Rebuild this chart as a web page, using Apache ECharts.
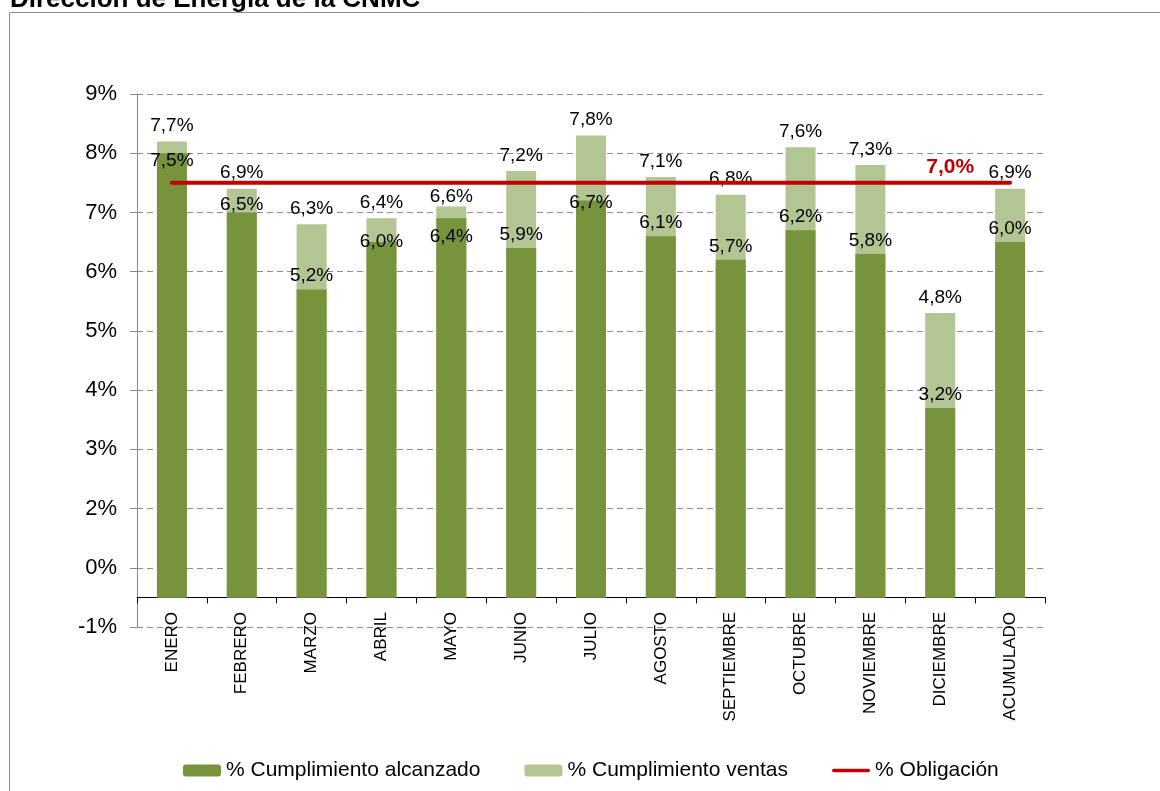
<!DOCTYPE html>
<html><head><meta charset="utf-8">
<script src="https://cdn.jsdelivr.net/npm/echarts@6/dist/echarts.min.js"></script>
<style>html,body{margin:0;padding:0;background:#fff}#c{width:1160px;height:791px}</style>
</head><body><div id="c"></div>
<script>
const titleText = 'Dirección de Energía de la CNMC';
const categories = ['ENERO','FEBRERO','MARZO','ABRIL','MAYO','JUNIO','JULIO','AGOSTO','SEPTIEMBRE','OCTUBRE','NOVIEMBRE','DICIEMBRE','ACUMULADO'];
const alcanzado = [7.5,6.5,5.2,6.0,6.4,5.9,6.7,6.1,5.7,6.2,5.8,3.2,6.0];
const ventasTotal = [7.7,6.9,6.3,6.4,6.6,7.2,7.8,7.1,6.8,7.6,7.3,4.8,6.9];
const obligacion = [7.0,7.0,7.0,7.0,7.0,7.0,7.0,7.0,7.0,7.0,7.0,7.0,7.0];
const yTickLabels = ['-1%','0%','2%','3%','4%','5%','6%','7%','8%','9%'];
const seriesNames = ['% Cumplimiento alcanzado','% Cumplimiento ventas','% Obligación'];

const FONT = "'Liberation Sans', Arial, sans-serif";
const fmt = v => v.toFixed(1).replace('.', ',') + '%';

// label placement tweaks (style only)
const darkLabelStyle = {
  0: { position: 'insideTop', distance: -2 },
  1: { offset: [0, 6] },
  3: { offset: [0, 13] },
  4: { position: 'insideTop', distance: 9 },
  6: { offset: [0, 16] }
};
const lightLabelStyle = {
  4: { offset: [0, 6] }
};
const obligLabelIndex = 11;

const chart = echarts.init(document.getElementById('c'));
chart.setOption({
  animation: false,
  textStyle: { fontFamily: FONT },
  graphic: [
    { type: 'rect', shape: { x: 9.5, y: 12.5, width: 1200, height: 900 },
      style: { fill: 'none', stroke: '#8c8c8c', lineWidth: 1 }, silent: true },
    { type: 'text', left: 10, top: -13,
      style: { text: titleText, font: "bold 26px 'Liberation Sans', Arial, sans-serif", fill: '#000' } }
  ],
  grid: { left: 137, right: 115, top: 94, bottom: 164, containLabel: false },
  legend: {
    left: 178, top: 755, itemWidth: 38, itemHeight: 12, itemGap: 44,
    textStyle: { fontSize: 21, color: '#000', fontFamily: FONT },
    data: [
      { name: seriesNames[0] },
      { name: seriesNames[1] },
      { name: seriesNames[2], icon: 'path://M2,0H40A2,2,0,0,1,40,4H2A2,2,0,0,1,2,0Z' }
    ]
  },
  xAxis: {
    type: 'category', data: categories,
    axisLine: { onZero: true, lineStyle: { color: '#000', width: 1 } },
    axisTick: { show: true, length: 6, lineStyle: { color: '#000' } },
    axisLabel: { interval: 0, rotate: 90, margin: -15, fontSize: 17, color: '#000', fontFamily: FONT }
  },
  yAxis: {
    type: 'value', min: -0.5, max: 8.5, interval: 1,
    axisLine: { show: true, lineStyle: { color: '#868686' } },
    axisTick: { show: true, length: 7, lineStyle: { color: '#868686' } },
    splitLine: { show: true, lineStyle: { color: '#8c8c8c', type: [6, 4], width: 1 } },
    axisLabel: { margin: 20, fontSize: 22, color: '#000', fontFamily: FONT,
      formatter: v => yTickLabels[Math.round(v + 0.5)] }
  },
  series: [
    {
      name: seriesNames[0], type: 'bar', barWidth: 30, barGap: '-100%', z: 3,
      itemStyle: { color: '#77933C' },
      label: { show: true, position: 'top', distance: 4, fontSize: 19, color: '#000',
        formatter: p => fmt(p.value) },
      data: alcanzado.map((v, i) => darkLabelStyle[i] ? { value: v, label: darkLabelStyle[i] } : v)
    },
    {
      name: seriesNames[1], type: 'bar', barWidth: 30, z: 2,
      itemStyle: { color: '#B3C593' },
      label: { show: true, position: 'top', distance: 6, fontSize: 19, color: '#000',
        formatter: p => fmt(p.value) },
      data: ventasTotal.map((v, i) => lightLabelStyle[i] ? { value: v, label: lightLabelStyle[i] } : v)
    },
    {
      name: seriesNames[2], type: 'line', z: 4,
      symbol: 'circle', symbolSize: 1, showSymbol: true,
      itemStyle: { color: '#C00000' },
      lineStyle: { color: '#C00000', width: 4, cap: 'round' },
      label: { show: false, position: 'top', offset: [10, 0], fontSize: 21, fontWeight: 'bold', color: '#C00000',
        formatter: p => fmt(p.value) },
      data: obligacion.map((v, i) => i === obligLabelIndex ? { value: v, label: { show: true } } : v)
    }
  ]
});
</script></body></html>
